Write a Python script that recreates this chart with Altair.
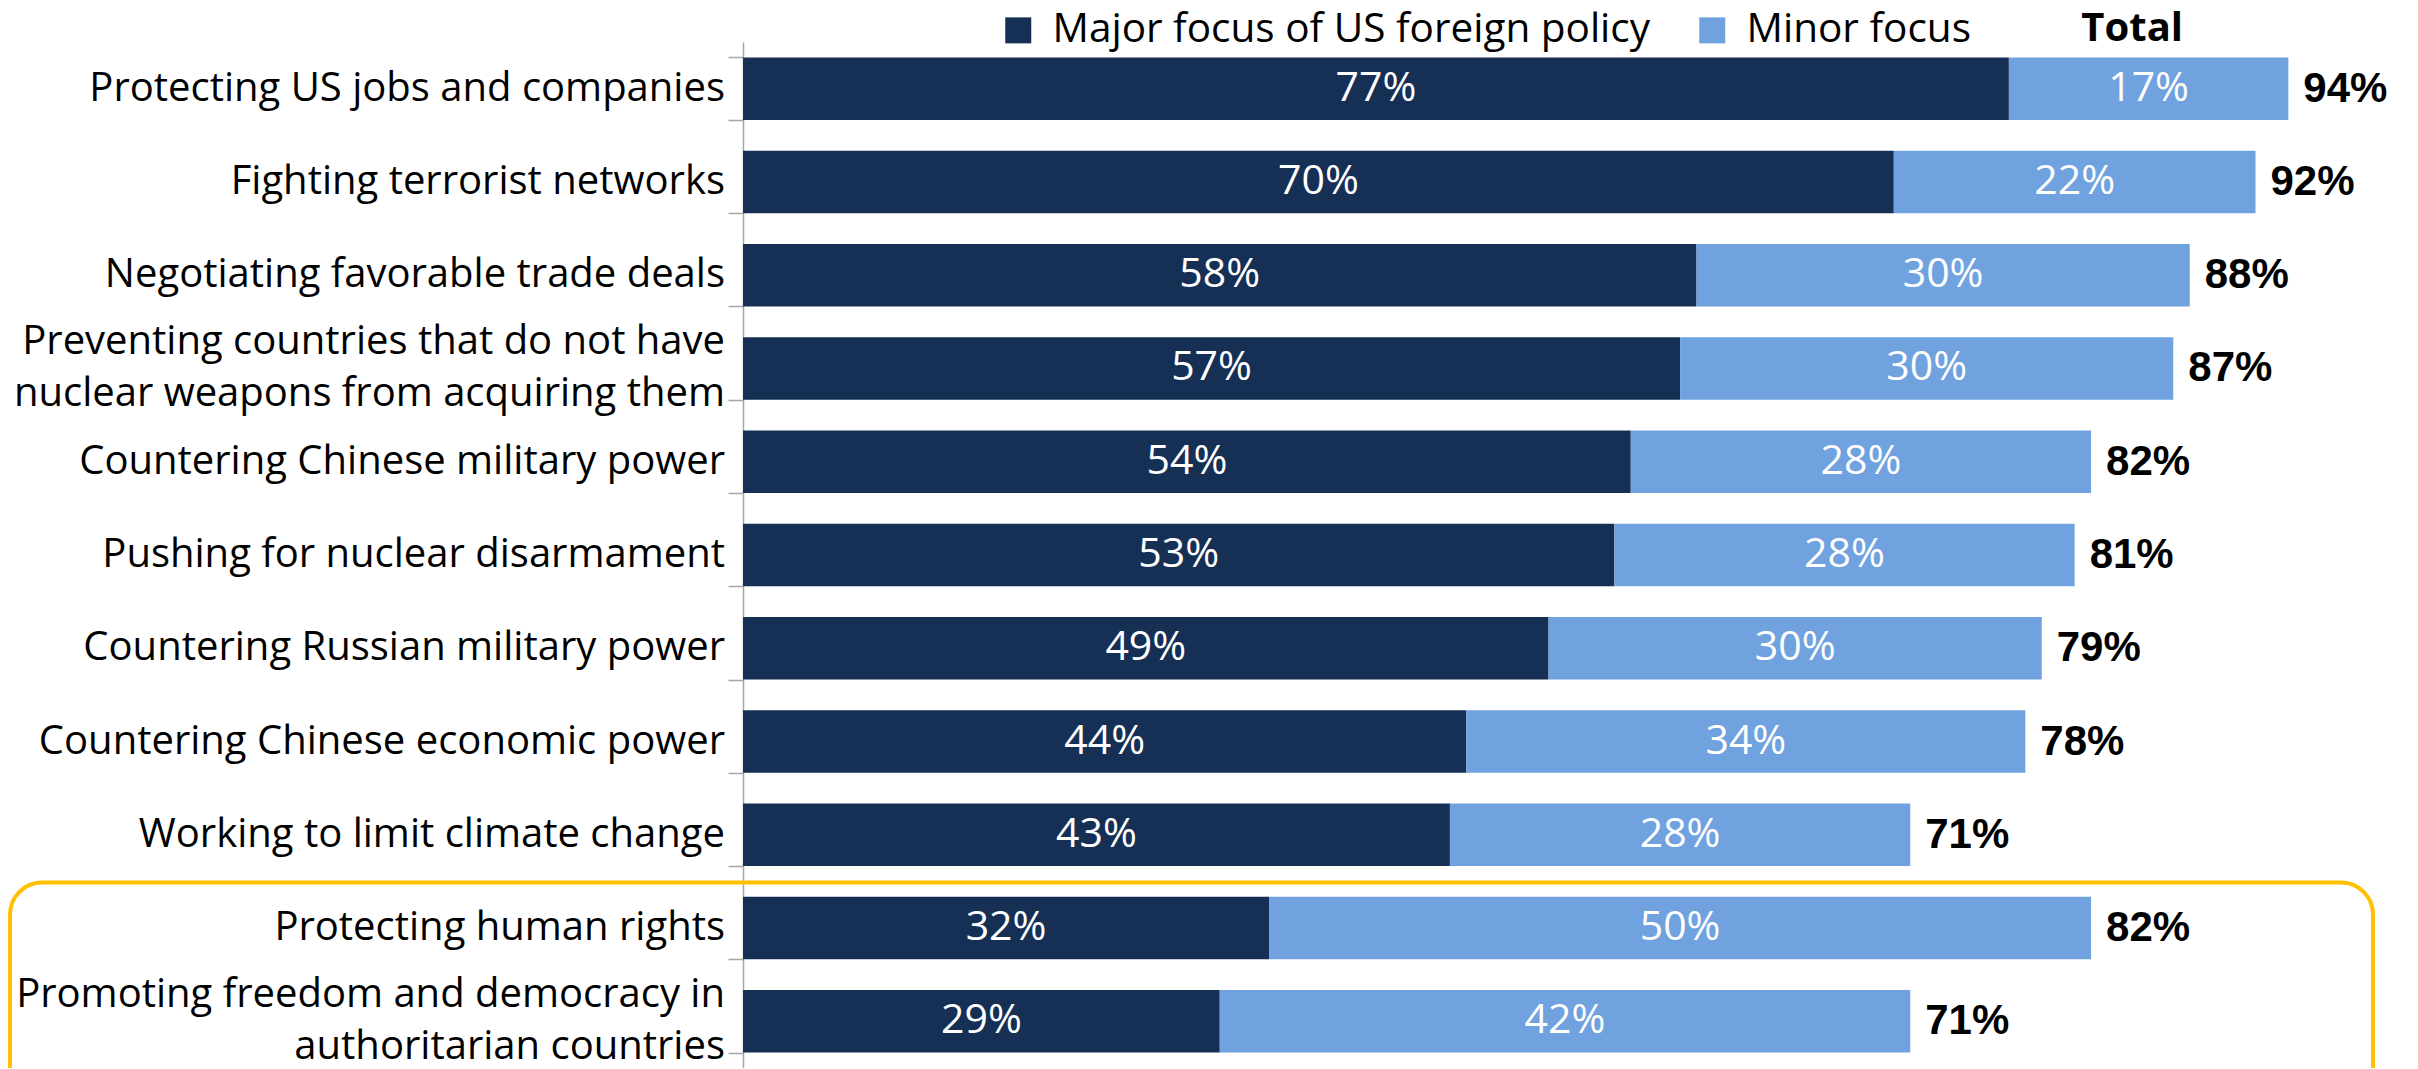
import altair as alt
import pandas as pd

categories = [
    "Protecting US jobs and companies",
    "Fighting terrorist networks",
    "Negotiating favorable trade deals",
    "Preventing countries that do not have|nuclear weapons from acquiring them",
    "Countering Chinese military power",
    "Pushing for nuclear disarmament",
    "Countering Russian military power",
    "Countering Chinese economic power",
    "Working to limit climate change",
    "Protecting human rights",
    "Promoting freedom and democracy in|authoritarian countries",
]
major = [77, 70, 58, 57, 54, 53, 49, 44, 43, 32, 29]
minor = [17, 22, 30, 30, 28, 28, 30, 34, 28, 50, 42]
totals = [94, 92, 88, 87, 82, 81, 79, 78, 71, 82, 71]
series_names = ["Major focus of US foreign policy", "Minor focus"]
series_colors = ["#152F55", "#6FA2DE"]
header_text = ["Total"]

rows = []
for i, c in enumerate(categories):
    rows.append({"cat": c, "series": series_names[0], "value": major[i], "order": 0})
    rows.append({"cat": c, "series": series_names[1], "value": minor[i], "order": 1})
df = pd.DataFrame(rows)
tot_df = pd.DataFrame({"cat": categories, "total": totals})

lab_rows = []
for c in categories:
    parts = c.split("|")
    if len(parts) == 1:
        lab_rows.append({"cat": c, "line": parts[0], "kind": 0})
    else:
        lab_rows.append({"cat": c, "line": parts[0], "kind": 1})
        lab_rows.append({"cat": c, "line": parts[1], "kind": 2})
lab_df = pd.DataFrame(lab_rows)

W = 1644
PLOT_H = 1026
VIS_H = 1026
LABEL_FONT = "Open Sans"
LINE_H = 52
LABEL_SIZE = 40

yscale = alt.Scale(domain=categories, range=[0, PLOT_H], paddingInner=0.33, paddingOuter=0.165)
yaxis = alt.Axis(
    title=None,
    labels=False,
    tickBand="extent",
    tickSize=15,
    tickColor="#A6A6A6",
    domainColor="#A6A6A6",
    tickWidth=1.5,
    domainWidth=1.5,
)
Y = alt.Y("cat:N", sort=categories, scale=yscale, axis=yaxis)
xscale = alt.Scale(domain=[0, 100], nice=False)

bars = alt.Chart(df).mark_bar().encode(
    y=Y,
    x=alt.X("value:Q", stack="zero", scale=xscale, axis=None),
    color=alt.Color(
        "series:N",
        scale=alt.Scale(domain=series_names, range=series_colors),
        legend=alt.Legend(
            title=None,
            orient="none",
            legendX=255,
            legendY=-32,
            direction="horizontal",
            symbolType="square",
            symbolSize=676,
            symbolStrokeWidth=0,
            symbolOpacity=1,
            labelFont=LABEL_FONT,
            labelFontSize=40.5,
            labelColor="black",
            labelOffset=14,
            columnPadding=41,
            padding=0,
            labelLimit=900,
        ),
    ),
    order=alt.Order("order:Q"),
)

def cat_labels(kind, dy):
    return (
        alt.Chart(lab_df)
        .transform_filter(alt.datum.kind == kind)
        .mark_text(font=LABEL_FONT, fontSize=LABEL_SIZE, color="black",
                   baseline="middle", align="right", dy=dy)
        .encode(y=Y, x=alt.value(-18), text="line:N")
    )

lab0 = cat_labels(0, 0)
lab1 = cat_labels(1, -LINE_H / 2)
lab2 = cat_labels(2, LINE_H / 2)

seg_labels = (
    alt.Chart(df)
    .transform_stack(stack="value", groupby=["cat"], as_=["v0", "v1"], sort=[alt.SortField("order")])
    .transform_calculate(mid="(datum.v0 + datum.v1) / 2", lab="datum.value + '%'")
    .mark_text(font=LABEL_FONT, fontSize=41, color="white", baseline="middle", align="center")
    .encode(y=Y, x=alt.X("mid:Q", scale=xscale, axis=None), text="lab:N")
)

tot_labels = (
    alt.Chart(tot_df)
    .transform_calculate(lab="datum.total + '%'")
    .mark_text(font="Liberation Sans", fontWeight="bold", fontSize=42, color="black",
               baseline="middle", align="left", dx=15)
    .encode(y=Y, x=alt.X("total:Q", scale=xscale, axis=None), text="lab:N")
)

header = (
    alt.Chart(pd.DataFrame({"t": header_text}))
    .transform_calculate(xpos="84.5")
    .mark_text(font=LABEL_FONT, fontWeight="bold", fontSize=40, color="black",
               baseline="middle", align="center")
    .encode(x=alt.X("xpos:Q", scale=xscale, axis=None), y=alt.value(-13), text="t:N")
)

step = PLOT_H / len(categories)
box_top = step * 9 + 1
box = (
    alt.Chart(pd.DataFrame({"b": [1]}))
    .mark_rect(fill="transparent", stroke="#FFC000", strokeWidth=4, cornerRadius=32)
    .encode(x=alt.value(-733), x2=alt.value(1630), y=alt.value(box_top), y2=alt.value(PLOT_H + 80))
)

chart = (
    alt.layer(bars, lab0, lab1, lab2, seg_labels, tot_labels, header, box)
    .properties(
        width=W,
        height=VIS_H,
        autosize=alt.AutoSizeParams(type="none"),
        padding={"left": 735, "top": 34, "right": 20, "bottom": 0},
    )
    .configure_view(strokeWidth=0)
)

chart.save("out.html", embed_options={"renderer": "svg", "actions": False})
